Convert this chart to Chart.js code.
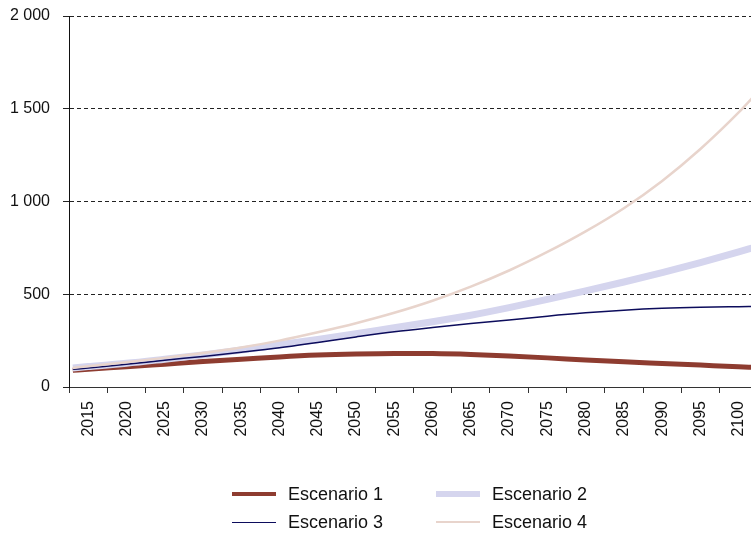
<!DOCTYPE html>
<html>
<head>
<meta charset="utf-8">
<script src="https://cdn.jsdelivr.net/npm/chart.js@4"></script>
<style>
    body {
        margin: 0;
        background: #ffffff;
        overflow: hidden;
    }
    #wrap {
        position: relative;
        width: 754px;
        height: 535px;
    }
    #legend {
        position: absolute;
        left: 232px;
        top: 483px;
        display: grid;
        grid-template-columns: 204px 200px;
        row-gap: 6px;
        font-family: "Liberation Sans", Arial, sans-serif;
        font-size: 18px;
        color: #111111;
    }
    .item {
        display: flex;
        align-items: center;
        height: 22px;
    }
    .swatch {
        width: 44px;
        margin-right: 12px;
    }
</style>
</head>
<body>
<div id="wrap">
    <canvas id="chart"></canvas>
    <div id="legend"></div>
</div>
<script>
// values (index per year below)
const years = [2013, 2015, 2020, 2025, 2030, 2035, 2040, 2045, 2050, 2055, 2060,
               2065, 2070, 2075, 2080, 2085, 2090, 2095, 2100, 2102];
const escenario1 = [90, 96, 109, 123, 137, 149, 162, 172, 178, 181, 180,
                    175, 167, 157, 146, 136, 127, 118, 109, 106];
const escenario2 = [103, 110, 128, 150, 173, 199, 228, 256, 287, 320, 352,
                    387, 428, 472, 518, 566, 617, 671, 729, 752];
const escenario3 = [95, 103, 122, 144, 165, 187, 211, 240, 270, 298, 321,
                    342, 361, 382, 400, 414, 424, 430, 433, 434];
const escenario4 = [103, 112, 133, 157, 183, 213, 250, 295, 344, 400, 465,
                    541, 628, 728, 839, 964, 1111, 1283, 1480, 1568];
const seriesNames = ["Escenario 1", "Escenario 2", "Escenario 3", "Escenario 4"];
const tickYears = [2015, 2020, 2025, 2030, 2035, 2040, 2045, 2050, 2055,
                   2060, 2065, 2070, 2075, 2080, 2085, 2090, 2095, 2100];
const yTicks = [0, 500, 1000, 1500, 2000];

const FONT = "'Liberation Sans', Arial, sans-serif";

function toPoints(values) {
    return values.map((v, i) => ({ x: years[i], y: v }));
}

function thousands(v) {
    return String(v).replace(/\B(?=(\d{3})+(?!\d))/g, " ");
}

const styles = [
    { color: "#8e3c30", width: 5, order: 4 },
    { color: "#d5d5ee", width: 7, order: 3 },
    { color: "#0c0c5c", width: 1.5, order: 2 },
    { color: "#e8d4cc", width: 2.5, order: 1 }
];

const allSeries = [escenario1, escenario2, escenario3, escenario4];

const chart = new Chart(document.getElementById("chart"), {
    type: "line",
    data: {
        datasets: allSeries.map((values, i) => ({
            label: seriesNames[i],
            data: toPoints(values),
            borderColor: styles[i].color,
            borderWidth: styles[i].width,
            order: styles[i].order,
            pointRadius: 0,
            pointHoverRadius: 0,
            cubicInterpolationMode: "monotone",
            fill: false
        }))
    },
    options: {
        responsive: true,
        maintainAspectRatio: false,
        animation: false,
        layout: {
            autoPadding: false,
            padding: { left: 10, top: 16, right: 0, bottom: 98 }
        },
        plugins: {
            legend: { display: false },
            tooltip: { enabled: false }
        },
        scales: {
            x: {
                type: "linear",
                min: 2012.5,
                max: 2102,
                afterBuildTicks: (scale) => {
                    scale.ticks = tickYears.map(v => ({ value: v }));
                },
                afterFit: (scale) => {
                    scale.paddingLeft = 0;
                    scale.paddingRight = 0;
                    scale.height = 50;
                },
                ticks: {
                    autoSkip: false,
                    minRotation: 90,
                    maxRotation: 90,
                    padding: 8,
                    color: "#111111",
                    font: { family: FONT, size: 16 },
                    callback: (v) => String(v)
                },
                grid: {
                    offset: true,
                    drawOnChartArea: false,
                    tickLength: 6,
                    tickColor: "#333333"
                },
                border: { color: "#333333", width: 1 }
            },
            y: {
                min: 0,
                max: 2000,
                afterBuildTicks: (scale) => {
                    scale.ticks = yTicks.map(v => ({ value: v }));
                },
                afterFit: (scale) => {
                    scale.width = 59;
                    scale.paddingTop = 0;
                    scale.paddingBottom = 0;
                },
                ticks: {
                    padding: 13,
                    color: "#111111",
                    font: { family: FONT, size: 16 },
                    callback: (v) => thousands(v)
                },
                grid: {
                    color: (ctx) => ctx.tick && ctx.tick.value === 0 ? "rgba(0,0,0,0)" : "#222222",
                    tickColor: "#222222",
                    tickLength: 6,
                    lineWidth: 1
                },
                border: { color: "#111111", width: 1, dash: [4, 3] }
            }
        }
    }
});

// legend in two columns, like the reference
const legend = document.getElementById("legend");
chart.data.datasets.forEach(ds => {
    const item = document.createElement("div");
    item.className = "item";
    const sw = document.createElement("div");
    sw.className = "swatch";
    sw.style.height = Math.max(1, Math.round(ds.borderWidth * 0.8)) + "px";
    sw.style.background = ds.borderColor;
    const txt = document.createElement("span");
    txt.textContent = ds.label;
    item.appendChild(sw);
    item.appendChild(txt);
    legend.appendChild(item);
});
</script>
</body>
</html>
